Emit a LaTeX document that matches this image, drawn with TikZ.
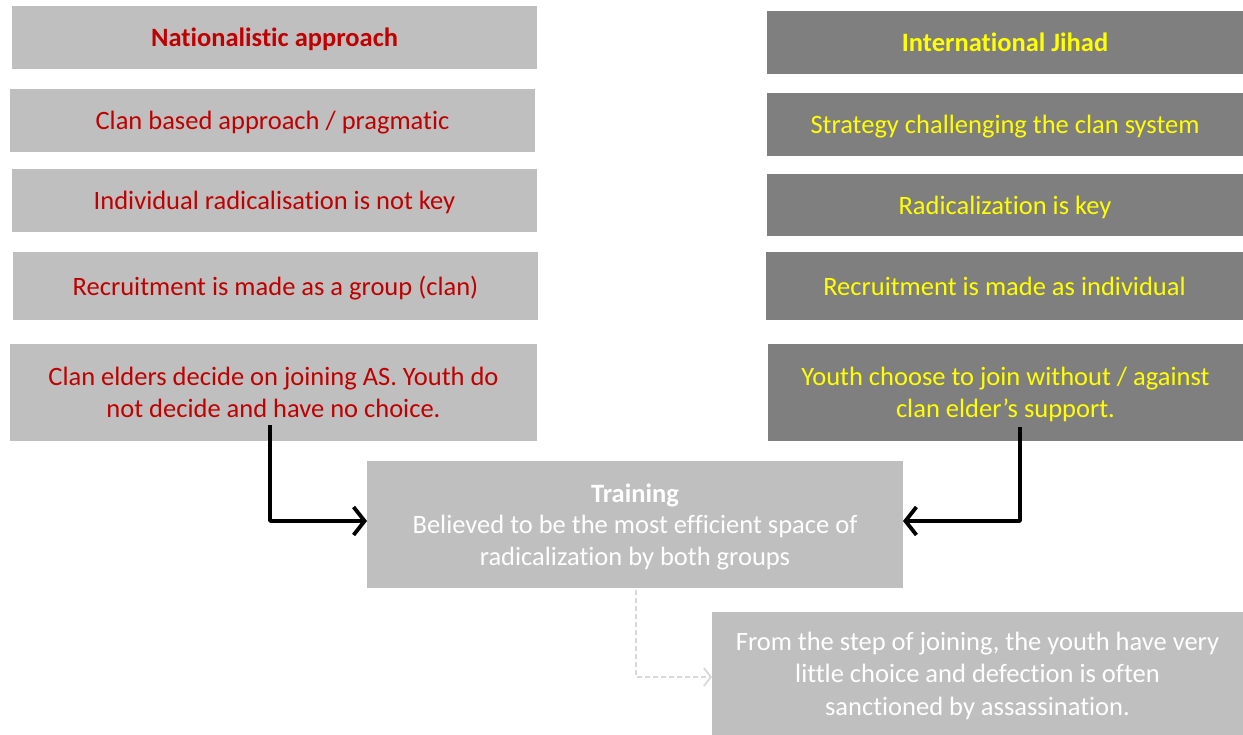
\documentclass[tikz,border=0pt]{standalone}
\usepackage{fontspec}
\setmainfont{Carlito}[Ligatures=NoCommon]
\usetikzlibrary{arrows.meta}
\definecolor{lbox}{HTML}{BFBFBF}
\definecolor{dbox}{HTML}{7F7F7F}
\definecolor{redt}{HTML}{C00000}
\definecolor{yelt}{HTML}{FFFF00}
\definecolor{dashc}{HTML}{D9D9D9}
\tikzset{
  base/.style={inner sep=0pt, align=center, text depth=0pt, font=\fontsize{26.5}{31.5}\selectfont},
  lbx/.style={base, fill=lbox, text=redt},
  rbx/.style={base, fill=dbox, text=yelt},
  wbx/.style={base, fill=lbox, text=white},
  bigarrow/.style={line width=3.8pt, black, line join=round, -{Straight Barb[length=11pt,width=28pt,line width=3.8pt]}},
  dasharrow/.style={line width=1.8pt, dashc, dash pattern=on 5pt off 3pt, -{Straight Barb[length=7pt,width=18pt,line width=1.8pt]}}
}
\begin{document}
\begin{tikzpicture}[x=1pt,y=-1pt]
\useasboundingbox (0,0) rectangle (1243,735);
% left column
\node[lbx, minimum width=525pt, minimum height=63pt] (l1) at (274.5,37.5) {\bfseries Nationalistic approach};
\node[lbx, minimum width=525pt, minimum height=63pt] (l2) at (272.5,120.5) {Clan based approach / pragmatic};
\node[lbx, minimum width=525pt, minimum height=63pt] (l3) at (274.5,200.5) {Individual radicalisation is not key};
\node[lbx, minimum width=525pt, minimum height=68pt] (l4) at (275.5,286) {Recruitment is made as a group (clan)};
\node[lbx, minimum width=527pt, minimum height=97pt] (l5) at (273.5,392.5) {Clan elders decide on joining AS. Youth do\\not decide and have no choice.};
% right column
\node[rbx, minimum width=476pt, minimum height=63pt] (r1) at (1005,42.5) {\bfseries International Jihad};
\node[rbx, minimum width=476pt, minimum height=63pt] (r2) at (1005,124.5) {Strategy challenging the clan system};
\node[rbx, minimum width=476pt, minimum height=62pt] (r3) at (1005,205) {Radicalization is key};
\node[rbx, minimum width=477pt, minimum height=68pt] (r4) at (1004.5,286) {Recruitment is made as individual};
\node[rbx, minimum width=475pt, minimum height=97pt] (r5) at (1005.5,392.5) {Youth choose to join without / against\\clan elder’s support.};
% training
\node[wbx, minimum width=536pt, minimum height=127pt] (tr) at (635,524.5) {\bfseries Training\\Believed to be the most efficient space of\\radicalization by both groups};
% final
\node[wbx, minimum width=531pt, minimum height=123pt, font=\fontsize{26.5}{32.5}\selectfont] (fin) at (977.5,673.5) {From the step of joining, the youth have very\\little choice and defection is often\\sanctioned by assassination.};
% connectors
\coordinate (a1) at (270,425);
\coordinate (a2) at (1020,427);
\coordinate (t1) at (367,521);
\coordinate (t2) at (903,521);
\coordinate (d1) at (636,590);
\coordinate (d2) at (712,677);
\draw[bigarrow] (a1) |- (t1);
\draw[bigarrow] (a2) |- (t2);
\draw[dasharrow] (d1) |- (d2);
\end{tikzpicture}
\end{document}
